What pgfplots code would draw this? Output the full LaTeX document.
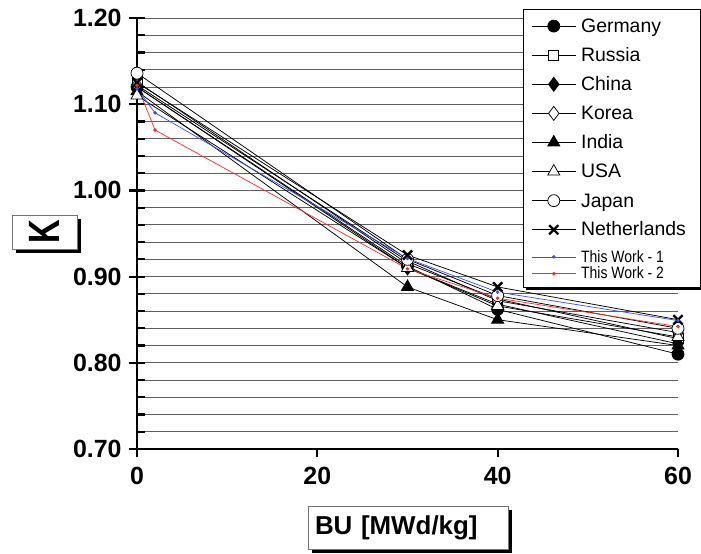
\documentclass[border=0pt]{standalone}
\usepackage{fontspec}
\setmainfont{Liberation Sans}
\newfontfamily\narrowfont[FakeStretch=0.85]{Liberation Sans}
\usepackage{graphicx}
\usepackage{pgfplots}
\pgfplotsset{compat=1.18}

\definecolor{WorkBlue}{RGB}{50,80,255}
\definecolor{WorkRed}{RGB}{255,40,40}
\definecolor{GridGray}{RGB}{95,95,95}

\pgfplotsset{
  country/.style={black, line width=0.75bp, mark size=6bp,
    mark options={solid, line width=1.9bp}},
  work/.style={line width=0.7bp, mark=*, mark size=1.4bp},
}
% legend rows: declared height sets the row pitch, raise centres the text on the image
\newcommand{\lgA}[1]{\raisebox{3.3bp}[20.8bp][0pt]{#1}}
\newcommand{\lgB}[1]{\raisebox{10.3bp}[34.4bp][0pt]{#1}}
\newcommand{\lgW}[1]{\raisebox{2.45bp}[16.8bp][0pt]{\narrowfont\fontsize{16.5}{18}\selectfont #1}}
\newcommand{\lgZ}[1]{\raisebox{1bp}[13.8bp][0pt]{\narrowfont\fontsize{16.5}{18}\selectfont #1}}

\begin{document}
\begin{tikzpicture}
\useasboundingbox (0bp,0bp) rectangle (701bp,-554bp);
\begin{axis}[
  at={(137bp,-449bp)}, anchor=south west,
  scale only axis, width=541bp, height=431bp,
  xmin=0, xmax=60, ymin=0.70, ymax=1.20,
  axis x line*=bottom, axis y line*=left,
  axis line style={line width=2.8bp, -},
  xtick={0,20,40,60},
  ytick={0.7,0.8,0.9,1.0,1.1,1.2},
  minor y tick num=4,
  ymajorgrids, yminorgrids,
  major grid style={GridGray, line width=0.8bp},
  minor grid style={GridGray, line width=0.8bp},
  xtick align=outside, ytick align=inside,
  major tick length=8bp, minor tick length=8bp,
  tick style={black, line width=2.2bp},
  extra y ticks={0.7,0.8,0.9,1.0,1.1,1.2},
  extra y tick labels={},
  extra y tick style={tick align=outside, grid=none},
  ticklabel style={font=\bfseries\fontsize{25}{27}\selectfont},
  /pgf/number format/assume math mode=true,
  yticklabel style={xshift=-12bp, /pgf/number format/.cd, fixed, fixed zerofill, precision=2},
  xticklabel style={yshift=-7bp, /pgf/number format/.cd, fixed, precision=0},
  clip=false,
  legend cell align=left,
  legend image code/.code={\draw[mark repeat=2,mark phase=2] plot coordinates {(0bp,0bp) (22bp,0bp) (44bp,0bp)};},
  legend style={name=leg, at={(axis description cs:0.7135,1.021)}, anchor=north west,
    draw=black, line width=0.8bp, fill=white,
    font=\fontsize{19.5}{22}\selectfont,
    inner xsep=8bp, inner ysep=5.6bp, row sep=0bp,
    nodes={inner sep=0bp},
    /tikz/every odd column/.append style={column sep=5bp}},
]
\addplot[country, mark=*, mark options={fill=black}] coordinates {(0,1.120) (30,0.912) (40,0.862) (60,0.810)};
\addplot[country, mark=square*, mark size=5bp, mark options={fill=white}] coordinates {(0,1.126) (30,0.915) (40,0.874) (60,0.828)};
\addplot[country, mark=diamond*, mark size=7bp, mark options={fill=black}] coordinates {(0,1.120) (30,0.910) (40,0.868) (60,0.822)};
\addplot[country, mark=diamond*, mark size=7bp, mark options={fill=white}] coordinates {(0,1.122) (30,0.918) (40,0.872) (60,0.835)};
\addplot[country, mark=triangle*, mark size=7bp, mark options={fill=black}] coordinates {(0,1.115) (30,0.888) (40,0.850) (60,0.820)};
\addplot[country, mark=triangle*, mark size=7bp, mark options={fill=white}] coordinates {(0,1.110) (30,0.910) (40,0.866) (60,0.830)};
\addplot[country, mark=*, mark options={fill=white}] coordinates {(0,1.136) (30,0.920) (40,0.878) (60,0.840)};
\addplot[country, mark=x, mark size=6.5bp, mark options={line width=2.4bp}] coordinates {(0,1.125) (30,0.925) (40,0.888) (60,0.850)};
\addplot[work, WorkBlue] coordinates {(0,1.118) (2,1.090) (30,0.921) (40,0.882) (60,0.849)};
\addplot[work, WorkRed] coordinates {(0,1.122) (2,1.070) (30,0.909) (40,0.875) (60,0.842)};
\legend{\lgA{Germany}, \lgB{Russia}, \lgA{China}, \lgB{Korea}, \lgA{India},
  \lgB{USA}, \lgA{Japan}, \lgB{\makebox[111bp][l]{Netherlands}},
  \lgW{This Work - 1}, \lgZ{This Work - 2}}
\end{axis}
% legend shadow
\fill[black] ([xshift=3bp]leg.south west) rectangle ([xshift=3bp,yshift=-3bp]leg.south east);
\fill[black] ([yshift=-3bp]leg.north east) rectangle ([xshift=3bp]leg.south east);
% axis titles in shadowed boxes
\fill[black] (15.5bp,-218.5bp) rectangle (80.5bp,-252.5bp);
\node[draw=black!55, line width=0.8bp, fill=white,
  minimum width=65bp, minimum height=34bp, inner sep=0pt]
  at (44.5bp,-232bp) {\rotatebox{90}{\scalebox{0.75}[1]{\bfseries\fontsize{44}{44}\selectfont K}}};
\fill[black] (311.5bp,-510bp) rectangle (511.5bp,-553bp);
\node[draw=black!55, line width=0.8bp, fill=white,
  text width=186bp, inner xsep=7bp, minimum height=43bp, align=left,
  font=\bfseries\fontsize{26}{28}\selectfont]
  at (408bp,-528bp) {BU [MWd/kg]};
\end{tikzpicture}
\end{document}
